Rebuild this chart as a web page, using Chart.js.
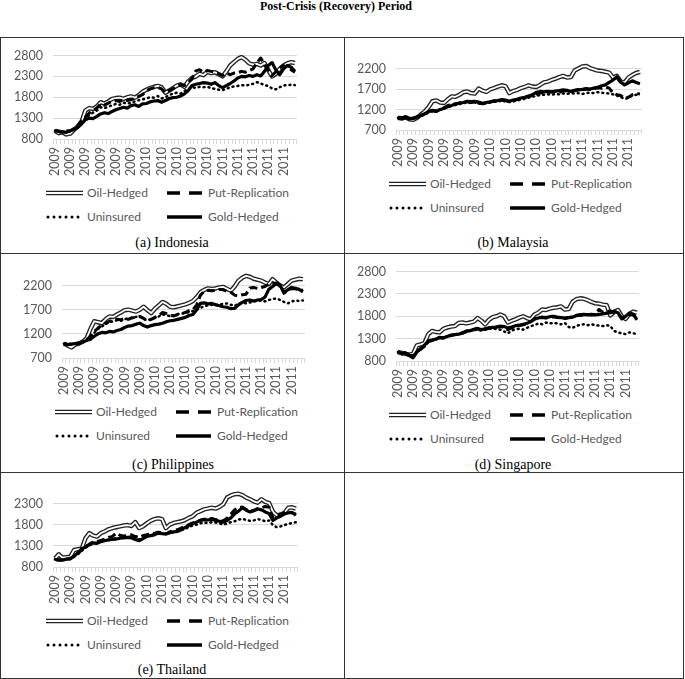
<!DOCTYPE html>
<html>
<head>
<meta charset="utf-8">
<script src="https://cdn.jsdelivr.net/npm/chart.js@4.4.1/dist/chart.umd.min.js"></script>
<style>
  body { margin: 0; background: #fff; width: 685px; height: 679px; position: relative; overflow: hidden; font-family: Lato, sans-serif; }
  #title { position: absolute; left: 336px; top: 6px; transform: translate(-50%, -50%); font: bold 12px "Liberation Serif", serif; white-space: nowrap; }
  .hl { position: absolute; height: 1px; background: #333; }
  .vl { position: absolute; width: 1px; background: #333; }
  .cap { position: absolute; transform: translate(-50%, -50%); font: 14px "Liberation Serif", serif; color: #000; white-space: nowrap; }
  .lg { position: absolute; transform: translateY(-50%); font-size: 12px; color: #595959; white-space: nowrap; line-height: 1; }
  .sw { position: absolute; transform: translateY(-50%); line-height: 0; }
  .wrap { position: absolute; }
</style>
</head>
<body>
<div id="title">Post-Crisis (Recovery) Period</div>

<div class="hl" style="left:0;top:37px;width:684px"></div>
<div class="hl" style="left:0;top:253px;width:684px"></div>
<div class="hl" style="left:0;top:472px;width:684px"></div>
<div class="hl" style="left:0;top:678px;width:684px"></div>
<div class="vl" style="left:0;top:37px;height:642px"></div>
<div class="vl" style="left:344px;top:37px;height:642px"></div>
<div class="vl" style="left:683px;top:37px;height:642px"></div>

<script>
// x labels: one per week, only every 4th is shown
const weeks = [
  "2009","2009","2009","2009","2009","2009","2009","2009","2009","2009","2009","2009",
  "2009","2009","2009","2009","2009","2009","2009","2009","2009","2009","2009","2009",
  "2010","2010","2010","2010","2010","2010","2010","2010","2010","2010",
  "2010","2010","2010","2010","2010","2010","2010","2010","2010","2010",
  "2011","2011","2011","2011","2011","2011","2011","2011","2011","2011",
  "2011","2011","2011","2011","2011","2011","2011","2011","2011","2011"
];

const ticks2800 = [800, 1300, 1800, 2300, 2800];
const ticks2200 = [700, 1200, 1700, 2200];
const ticks2300 = [800, 1300, 1800, 2300];

const indonesiaOil = [
  1000, 940, 960, 910, 930, 1020, 1100, 1220, 1480, 1540, 1520, 1580, 1680, 1650, 1700, 1760,
  1780, 1790, 1760, 1800, 1820, 1790, 1850, 1930, 1980, 2020, 2050, 2070, 2040, 1910, 1960, 2020,
  2080, 2110, 2050, 2180, 2260, 2300, 2360, 2330, 2410, 2380, 2400, 2350, 2300, 2420, 2560, 2640,
  2720, 2760, 2700, 2610, 2580, 2600, 2560, 2620, 2450, 2300, 2360, 2480, 2560, 2610, 2640, 2620];
const indonesiaPut = [
  1000, 980, 960, 1000, 990, 1050, 1120, 1230, 1320, 1420, 1480, 1540, 1640, 1610, 1660, 1700,
  1720, 1700, 1740, 1720, 1740, 1780, 1820, 1860, 1950, 2000, 2030, 2040, 2000, 1900, 1960, 2010,
  2060, 2100, 2080, 2150, 2250, 2430, 2460, 2400, 2440, 2420, 2400, 2360, 2320, 2380, 2340, 2380,
  2390, 2420, 2400, 2440, 2480, 2620, 2740, 2600, 2450, 2320, 2410, 2500, 2560, 2490, 2460, 2400];
const indonesiaUnins = [
  1000, 960, 980, 950, 990, 1040, 1100, 1190, 1290, 1380, 1430, 1480, 1560, 1540, 1570, 1610,
  1640, 1620, 1670, 1650, 1660, 1700, 1730, 1750, 1770, 1800, 1790, 1830, 1770, 1800, 1850, 1890,
  1910, 1890, 1950, 2000, 2040, 2020, 2050, 2040, 2050, 2020, 2000, 1980, 1970, 2000, 2040, 2060,
  2070, 2090, 2080, 2100, 2120, 2160, 2130, 2090, 2070, 2010, 1990, 2040, 2080, 2090, 2100, 2090];
const indonesiaGold = [
  1000, 990, 970, 960, 1000, 1030, 1080, 1160, 1260, 1300, 1290, 1340, 1400, 1430, 1410, 1460,
  1500, 1530, 1560, 1540, 1600, 1620, 1580, 1640, 1650, 1690, 1710, 1720, 1680, 1720, 1770, 1790,
  1800, 1830, 1880, 1960, 2080, 2110, 2130, 2150, 2140, 2110, 2150, 2080, 2030, 2080, 2130, 2190,
  2260, 2300, 2290, 2320, 2300, 2340, 2310, 2420, 2560, 2630, 2450, 2340, 2480, 2560, 2520, 2420];

const malaysiaOil = [
  1000, 980, 1010, 960, 950, 1000, 1080, 1150, 1260, 1400, 1420, 1370, 1360, 1450, 1520, 1510,
  1560, 1620, 1640, 1600, 1590, 1710, 1660, 1630, 1690, 1720, 1760, 1790, 1770, 1600, 1650, 1680,
  1720, 1750, 1790, 1760, 1750, 1800, 1860, 1880, 1920, 1950, 1990, 2020, 1980, 1990, 2150, 2200,
  2250, 2260, 2210, 2180, 2150, 2140, 2120, 2100, 1980, 2020, 1880, 1860, 1980, 2040, 2090, 2120];
const malaysiaPut = [
  1000, 980, 1010, 970, 980, 1010, 1050, 1090, 1140, 1170, 1150, 1210, 1240, 1300, 1320, 1330,
  1350, 1380, 1390, 1370, 1380, 1360, 1340, 1360, 1380, 1400, 1410, 1430, 1420, 1390, 1410, 1440,
  1470, 1490, 1520, 1540, 1580, 1600, 1610, 1620, 1630, 1640, 1620, 1650, 1660, 1640, 1670, 1690,
  1680, 1700, 1690, 1710, 1730, 1720, 1750, 1720, 1600, 1560, 1540, 1470, 1500, 1560, 1590, 1580];
const malaysiaUnins = [
  1000, 970, 990, 960, 980, 1010, 1040, 1080, 1130, 1160, 1150, 1190, 1220, 1260, 1290, 1310,
  1330, 1350, 1370, 1360, 1370, 1350, 1330, 1350, 1370, 1390, 1400, 1410, 1400, 1380, 1400, 1420,
  1440, 1460, 1490, 1510, 1530, 1550, 1560, 1570, 1560, 1580, 1570, 1590, 1580, 1600, 1590, 1600,
  1580, 1600, 1610, 1600, 1620, 1610, 1600, 1590, 1570, 1540, 1500, 1460, 1480, 1540, 1560, 1550];
const malaysiaGold = [
  1000, 990, 1020, 980, 990, 1020, 1060, 1100, 1150, 1180, 1160, 1200, 1230, 1270, 1300, 1340,
  1360, 1370, 1400, 1390, 1400, 1380, 1350, 1370, 1390, 1410, 1420, 1440, 1430, 1400, 1430, 1450,
  1480, 1500, 1530, 1560, 1620, 1640, 1630, 1640, 1630, 1650, 1660, 1680, 1670, 1640, 1660, 1680,
  1690, 1710, 1700, 1720, 1740, 1780, 1800, 1860, 1920, 2000, 1870, 1800, 1850, 1900, 1860, 1830];

const philippinesOil = [
  1000, 960, 920, 980, 1000, 1040, 1110, 1300, 1460, 1440, 1420, 1500, 1560, 1550, 1600, 1640,
  1690, 1700, 1680, 1660, 1700, 1760, 1690, 1630, 1720, 1790, 1860, 1820, 1760, 1750, 1770, 1790,
  1810, 1840, 1880, 1960, 2060, 2110, 2140, 2130, 2140, 2160, 2170, 2130, 2090, 2180, 2300, 2360,
  2400, 2380, 2340, 2320, 2300, 2260, 2230, 2330, 2260, 2200, 2160, 2230, 2300, 2320, 2340, 2330];
const philippinesPut = [
  1000, 970, 1000, 990, 1010, 1040, 1080, 1150, 1250, 1320, 1380, 1420, 1460, 1480, 1500, 1490,
  1520, 1500, 1530, 1540, 1560, 1520, 1470, 1500, 1540, 1580, 1640, 1620, 1580, 1570, 1600, 1620,
  1640, 1680, 1700, 1800, 2000, 2080, 2100, 2090, 2100, 2120, 2110, 2080, 2060, 2000, 1990, 2010,
  2020, 2150, 2160, 2140, 2160, 2180, 2230, 2240, 2250, 2200, 2040, 2100, 2140, 2130, 2120, 2100];
const philippinesUnins = [
  1000, 970, 990, 990, 1000, 1030, 1070, 1120, 1220, 1300, 1350, 1400, 1440, 1460, 1480, 1470,
  1500, 1520, 1540, 1550, 1560, 1510, 1480, 1500, 1530, 1560, 1600, 1590, 1560, 1580, 1610, 1620,
  1630, 1650, 1670, 1700, 1740, 1770, 1790, 1800, 1800, 1810, 1820, 1830, 1800, 1780, 1830, 1840,
  1830, 1850, 1870, 1880, 1890, 1870, 1900, 1920, 1930, 1900, 1860, 1830, 1870, 1890, 1880, 1890];
const philippinesGold = [
  1000, 980, 990, 1000, 1010, 1030, 1060, 1090, 1150, 1200, 1230, 1220, 1250, 1240, 1270, 1290,
  1330, 1360, 1370, 1400, 1420, 1370, 1340, 1370, 1390, 1400, 1420, 1450, 1470, 1480, 1500, 1520,
  1540, 1580, 1600, 1700, 1830, 1840, 1820, 1830, 1800, 1780, 1760, 1750, 1720, 1730, 1800, 1850,
  1890, 1900, 1880, 1900, 1910, 1960, 2120, 2180, 2240, 2200, 2060, 2110, 2160, 2140, 2120, 2070];

const singaporeOil = [
  1000, 980, 960, 940, 960, 1150, 1170, 1200, 1400, 1470, 1450, 1440, 1520, 1550, 1570, 1580,
  1650, 1660, 1640, 1660, 1680, 1760, 1700, 1620, 1720, 1780, 1800, 1840, 1800, 1660, 1700, 1730,
  1770, 1800, 1760, 1730, 1840, 1880, 1950, 1940, 1970, 1990, 2000, 2020, 1950, 1960, 2120, 2180,
  2200, 2190, 2160, 2120, 2090, 2080, 2060, 2050, 1820, 1900, 1940, 1800, 1740, 1850, 1900, 1880];
const singaporePut = [
  1000, 970, 990, 930, 900, 1020, 1060, 1130, 1230, 1260, 1280, 1320, 1310, 1340, 1370, 1390,
  1410, 1430, 1470, 1490, 1510, 1530, 1490, 1510, 1530, 1540, 1560, 1570, 1550, 1500, 1540, 1570,
  1590, 1610, 1630, 1680, 1730, 1760, 1770, 1760, 1780, 1790, 1770, 1760, 1750, 1770, 1790, 1820,
  1830, 1820, 1840, 1830, 1840, 1950, 1890, 1900, 1920, 1880, 1860, 1760, 1780, 1840, 1830, 1780];
const singaporeUnins = [
  1000, 970, 980, 950, 920, 1020, 1060, 1120, 1220, 1250, 1280, 1310, 1320, 1350, 1370, 1380,
  1400, 1420, 1450, 1470, 1490, 1500, 1480, 1500, 1520, 1530, 1510, 1500, 1460, 1420, 1480, 1510,
  1520, 1500, 1540, 1580, 1600, 1640, 1620, 1660, 1640, 1650, 1640, 1620, 1650, 1560, 1540, 1580,
  1610, 1620, 1600, 1620, 1600, 1590, 1580, 1600, 1580, 1470, 1440, 1420, 1400, 1440, 1420, 1400];
const singaporeGold = [
  1000, 960, 980, 920, 870, 1000, 1080, 1150, 1250, 1270, 1290, 1330, 1320, 1350, 1380, 1390,
  1400, 1420, 1460, 1480, 1500, 1520, 1500, 1520, 1540, 1550, 1560, 1580, 1570, 1540, 1560, 1590,
  1600, 1620, 1640, 1680, 1750, 1760, 1780, 1770, 1790, 1800, 1780, 1770, 1760, 1770, 1780, 1810,
  1830, 1840, 1830, 1840, 1830, 1840, 1850, 1870, 1880, 1910, 1880, 1740, 1800, 1870, 1850, 1720];

const thailandOil = [
  1000, 1100, 1020, 1030, 1040, 1200, 1220, 1230, 1480, 1600, 1540, 1520, 1600, 1640, 1690, 1720,
  1740, 1760, 1780, 1790, 1770, 1860, 1720, 1760, 1830, 1890, 1930, 1950, 1930, 1720, 1800, 1840,
  1860, 1880, 1910, 1960, 2000, 2080, 2120, 2160, 2180, 2200, 2180, 2220, 2280, 2440, 2490, 2520,
  2530, 2500, 2440, 2400, 2350, 2320, 2400, 2340, 2310, 2100, 2020, 2040, 2080, 2200, 2210, 2180];
const thailandPut = [
  980, 960, 970, 980, 990, 1050, 1120, 1200, 1280, 1340, 1390, 1400, 1430, 1460, 1500, 1520,
  1600, 1550, 1530, 1540, 1560, 1520, 1500, 1540, 1560, 1580, 1600, 1620, 1610, 1580, 1630, 1660,
  1680, 1720, 1760, 1800, 1840, 1870, 1900, 1930, 1920, 1950, 1920, 1900, 1890, 1950, 2050, 2150,
  2200, 2220, 2160, 2120, 2140, 2180, 2200, 2230, 2210, 1950, 2000, 2040, 2080, 2100, 2080, 2050];
const thailandUnins = [
  980, 970, 960, 980, 990, 1040, 1100, 1180, 1260, 1310, 1350, 1370, 1400, 1420, 1440, 1450,
  1480, 1490, 1500, 1520, 1510, 1470, 1450, 1490, 1530, 1550, 1570, 1600, 1590, 1570, 1600, 1620,
  1640, 1670, 1700, 1740, 1780, 1800, 1830, 1850, 1840, 1860, 1850, 1830, 1800, 1830, 1860, 1880,
  1920, 1940, 1910, 1890, 1900, 1930, 1910, 1880, 1900, 1790, 1740, 1760, 1790, 1820, 1840, 1860];
const thailandGold = [
  980, 970, 960, 990, 1000, 1060, 1130, 1230, 1270, 1330, 1370, 1360, 1400, 1420, 1440, 1450,
  1460, 1480, 1490, 1500, 1490, 1450, 1420, 1470, 1520, 1540, 1560, 1600, 1590, 1580, 1610, 1630,
  1640, 1680, 1730, 1780, 1820, 1860, 1900, 1920, 1910, 1930, 1900, 1880, 1860, 1900, 1960, 2060,
  2120, 2200, 2140, 2100, 2130, 2170, 2150, 2100, 2060, 1900, 1960, 2000, 2050, 2080, 2090, 2020];

// plot box in page pixels: left, top, right, bottom
const panels = [
  { caption: "(a) Indonesia", box: [53, 53, 305, 139], cap: [172, 243], ticks: ticks2800,
    oil: indonesiaOil, put: indonesiaPut, unins: indonesiaUnins, gold: indonesiaGold },
  { caption: "(b) Malaysia", box: [396, 66, 650, 130], cap: [513, 243], ticks: ticks2200,
    oil: malaysiaOil, put: malaysiaPut, unins: malaysiaUnins, gold: malaysiaGold },
  { caption: "(c) Philippines", box: [62, 283, 313, 358], cap: [173, 465], ticks: ticks2200,
    oil: philippinesOil, put: philippinesPut, unins: philippinesUnins, gold: philippinesGold },
  { caption: "(d) Singapore", box: [396, 269, 647, 361], cap: [513, 465], ticks: ticks2800,
    oil: singaporeOil, put: singaporePut, unins: singaporeUnins, gold: singaporeGold },
  { caption: "(e) Thailand", box: [53, 501, 306, 567], cap: [172, 670], ticks: ticks2300,
    oil: thailandOil, put: thailandPut, unins: thailandUnins, gold: thailandGold }
];

const PAD_L = 50, PAD_T = 15, PAD_R = 8, PAD_B = 38;
const AXIS_FONT = { family: "Lato", size: 12.5 };

function swatch(kind, w) {
  let inner;
  if (kind === "oil") {
    inner = `<line x1="0" y1="4" x2="${w}" y2="4" stroke="#222" stroke-width="4.5"/>` +
            `<line x1="0" y1="4" x2="${w}" y2="4" stroke="#fff" stroke-width="1.8"/>`;
  } else if (kind === "put") {
    inner = `<line x1="0" y1="4" x2="${w}" y2="4" stroke="#000" stroke-width="3.5" stroke-dasharray="13 9"/>`;
  } else if (kind === "unins") {
    inner = `<line x1="2" y1="4" x2="${w}" y2="4" stroke="#000" stroke-width="3" stroke-linecap="round" stroke-dasharray="0 6"/>`;
  } else {
    inner = `<line x1="0" y1="4" x2="${w}" y2="4" stroke="#000" stroke-width="3.5"/>`;
  }
  return `<svg width="${w}" height="8">${inner}</svg>`;
}

function addEl(cls, x, y, html) {
  const d = document.createElement("div");
  d.className = cls;
  d.style.left = x + "px";
  d.style.top = y + "px";
  d.innerHTML = html;
  document.body.appendChild(d);
}

panels.forEach((p) => {
  const [l, t, r, b] = p.box;
  const w = PAD_L + (r - l) + PAD_R;
  const h = PAD_T + (b - t) + PAD_B;

  const wrap = document.createElement("div");
  wrap.className = "wrap";
  wrap.style.left = (l - PAD_L) + "px";
  wrap.style.top = (t - PAD_T) + "px";
  const canvas = document.createElement("canvas");
  canvas.width = w;
  canvas.height = h;
  wrap.appendChild(canvas);
  document.body.appendChild(wrap);

  const common = { pointRadius: 0, tension: 0, fill: false, clip: false, borderJoinStyle: "round" };

  new Chart(canvas, {
    type: "line",
    data: {
      labels: weeks,
      datasets: [
        { ...common, label: "Oil-Hedged", data: p.oil, borderColor: "#222", borderWidth: 4.5, order: 4 },
        { ...common, label: "Oil-Hedged inner", data: p.oil, borderColor: "#ffffff", borderWidth: 1.8, order: 3 },
        { ...common, label: "Put-Replication", data: p.put, borderColor: "#000", borderWidth: 3, borderDash: [8, 4], order: 2 },
        { ...common, label: "Uninsured", data: p.unins, borderColor: "#000", borderWidth: 2.5, borderDash: [1, 4], borderCapStyle: "round", order: 1 },
        { ...common, label: "Gold-Hedged", data: p.gold, borderColor: "#000", borderWidth: 3.2, order: 0 }
      ]
    },
    options: {
      responsive: false,
      animation: false,
      events: [],
      layout: { padding: { left: 0, top: PAD_T, right: PAD_R, bottom: 0 } },
      plugins: { legend: { display: false }, tooltip: { enabled: false } },
      scales: {
        x: {
          offset: true,
          afterFit: (s) => { s.height = PAD_B; },
          grid: { display: true, drawOnChartArea: false, drawTicks: true, tickLength: 5, color: "#d9d9d9", offset: true },
          border: { display: true, color: "#d9d9d9" },
          ticks: {
            autoSkip: false, minRotation: 90, maxRotation: 90, padding: 3,
            color: "#595959", font: AXIS_FONT,
            callback: (v, i) => (i % 4 === 0 ? weeks[i] : "")
          }
        },
        y: {
          min: p.ticks[0],
          max: p.ticks[p.ticks.length - 1],
          afterFit: (s) => { s.width = PAD_L; },
          grid: { color: "#d9d9d9", drawTicks: false, lineWidth: 1 },
          border: { display: false },
          ticks: {
            stepSize: 500, padding: 10, color: "#595959", font: AXIS_FONT,
            callback: (v) => String(v)
          }
        }
      }
    }
  });

  // legend laid out as two rows of two, like the original
  const row1 = b + 54, row2 = b + 78;
  addEl("sw", l - 7, row1, swatch("oil", 37));
  addEl("lg", l + 34, row1, "Oil-Hedged");
  addEl("sw", l + 114, row1, swatch("put", 35));
  addEl("lg", l + 155, row1, "Put-Replication");
  addEl("sw", l - 7, row2, swatch("unins", 35));
  addEl("lg", l + 34, row2, "Uninsured");
  addEl("sw", l + 114, row2, swatch("gold", 35));
  addEl("lg", l + 155, row2, "Gold-Hedged");

  addEl("cap", p.cap[0], p.cap[1], p.caption);
});
</script>
</body>
</html>
